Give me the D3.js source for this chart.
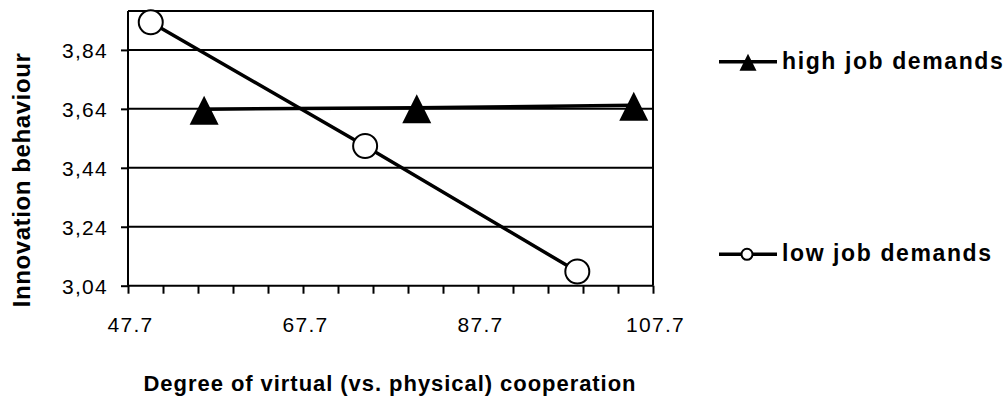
<!DOCTYPE html>
<html><head><meta charset="utf-8">
<script src="https://cdn.jsdelivr.net/npm/d3@7"></script>
<style>html,body{margin:0;padding:0;background:#fff;} text{font-family:"Liberation Sans",Arial,sans-serif;fill:#000;}</style>
</head><body>
<svg id="c" width="1007" height="410"></svg>
<script>
const seriesNames = ["high job demands", "low job demands"];
const xHigh = [56.4, 80.7, 105.5];
const yHigh = [3.639, 3.644, 3.652];
const xLow = [50.3, 74.8, 99.05];
const yLow = [3.934, 3.514, 3.088];
const yTicks = [3.04, 3.24, 3.44, 3.64, 3.84];
const xMajorTicks = [47.7, 67.7, 87.7, 107.7];
const xMinorTicks = d3.range(0, 16).map(i => +(47.7 + 4 * i).toFixed(1));
const xTitle = "Degree of virtual (vs. physical) cooperation";
const yTitle = "Innovation behaviour";

const svg = d3.select("#c");
const L = 128, R = 653, T = 11, B = 285.7;
const x = d3.scaleLinear().domain([47.7, 107.7]).range([L, R]);
const y = d3.scaleLinear().domain([3.04, 3.972]).range([B, T]);

// gridlines
svg.append("g").selectAll("line").data(yTicks.slice(1)).join("line")
  .attr("x1", L).attr("x2", R).attr("y1", d => y(d)).attr("y2", d => y(d))
  .attr("stroke", "#000").attr("stroke-width", 2);
// plot border top/right
svg.append("path").attr("d", `M${L},${T}H${R}V${B}`).attr("fill", "none").attr("stroke", "#000").attr("stroke-width", 2);

// y axis
const yAxis = d3.axisLeft(y).tickValues(yTicks).tickSize(7).tickFormat(d => d3.format(".2f")(d).replace(".", ","));
const gy = svg.append("g").attr("transform", `translate(${L},0)`).call(yAxis);
gy.select(".domain").attr("stroke-width", 2).attr("d", `M-0,${B}V${T}`);
gy.selectAll(".tick line").attr("stroke-width", 2);
gy.selectAll(".tick text").attr("x", -20).attr("dy", "0.36em")
  .style("font-size", "21px").style("letter-spacing", "1.3px").style("font-family", '"Liberation Sans",Arial,sans-serif');

// x axis minor/major ticks
const xAxis = d3.axisBottom(x).tickValues(xMinorTicks).tickSize(8).tickFormat(d => xMajorTicks.includes(d) ? d3.format(".1f")(d) : "");
const gx = svg.append("g").attr("transform", `translate(0,${B})`).call(xAxis);
gx.select(".domain").attr("stroke-width", 2).attr("d", `M${L},0H${R}`);
gx.selectAll(".tick line").attr("stroke-width", 2);
gx.selectAll(".tick text").attr("y", 39).attr("dy", "0.35em").attr("dx", 2)
  .style("font-size", "21px").style("letter-spacing", "1.3px").style("font-family", '"Liberation Sans",Arial,sans-serif');

// lines
const line = d3.line().x(d => x(d[0])).y(d => y(d[1]));
const high = xHigh.map((v, i) => [v, yHigh[i]]);
const low = xLow.map((v, i) => [v, yLow[i]]);
svg.append("path").datum(high).attr("d", line).attr("fill", "none").attr("stroke", "#000").attr("stroke-width", 3.5);
svg.append("path").datum(low).attr("d", line).attr("fill", "none").attr("stroke", "#000").attr("stroke-width", 3.5);

function tri(s) { // s = half width
  return `M0,${-s * 0.93}L${s},${s * 1.07}L${-s},${s * 1.07}Z`;
}
svg.append("g").selectAll("path").data(high).join("path")
  .attr("transform", d => `translate(${x(d[0])},${y(d[1])})`)
  .attr("d", tri(14.5)).attr("fill", "#000");
svg.append("g").selectAll("circle").data(low).join("circle")
  .attr("cx", d => x(d[0])).attr("cy", d => y(d[1])).attr("r", 12)
  .attr("fill", "#fff").attr("stroke", "#000").attr("stroke-width", 2);

// legend
const lg = svg.append("g");
const legY = [61.7, 254.3];
legY.forEach((ly, i) => {
  lg.append("line").attr("x1", 719).attr("x2", 777).attr("y1", ly).attr("y2", ly).attr("stroke", "#000").attr("stroke-width", 3.5);
  if (i === 0) lg.append("path").attr("transform", `translate(748,${ly})`).attr("d", tri(8.5)).attr("fill", "#000");
  else lg.append("circle").attr("cx", 747).attr("cy", ly).attr("r", 5.5).attr("fill", "#fff").attr("stroke", "#000").attr("stroke-width", 2);
  lg.append("text").attr("x", 782).attr("y", ly + 7).style("font-size", "23px").style("font-weight", "bold").style("letter-spacing", "1.6px").text(seriesNames[i]);
});

// titles
svg.append("text").attr("x", 390).attr("y", 391).attr("text-anchor", "middle")
  .style("font-size", "22px").style("font-weight", "bold").style("letter-spacing", "0.95px").text(xTitle);
svg.append("text").attr("transform", "translate(30,180) rotate(-90)").attr("text-anchor", "middle")
  .style("font-size", "24px").style("font-weight", "bold").style("letter-spacing", "0.6px").text(yTitle);
</script>
</body></html>
